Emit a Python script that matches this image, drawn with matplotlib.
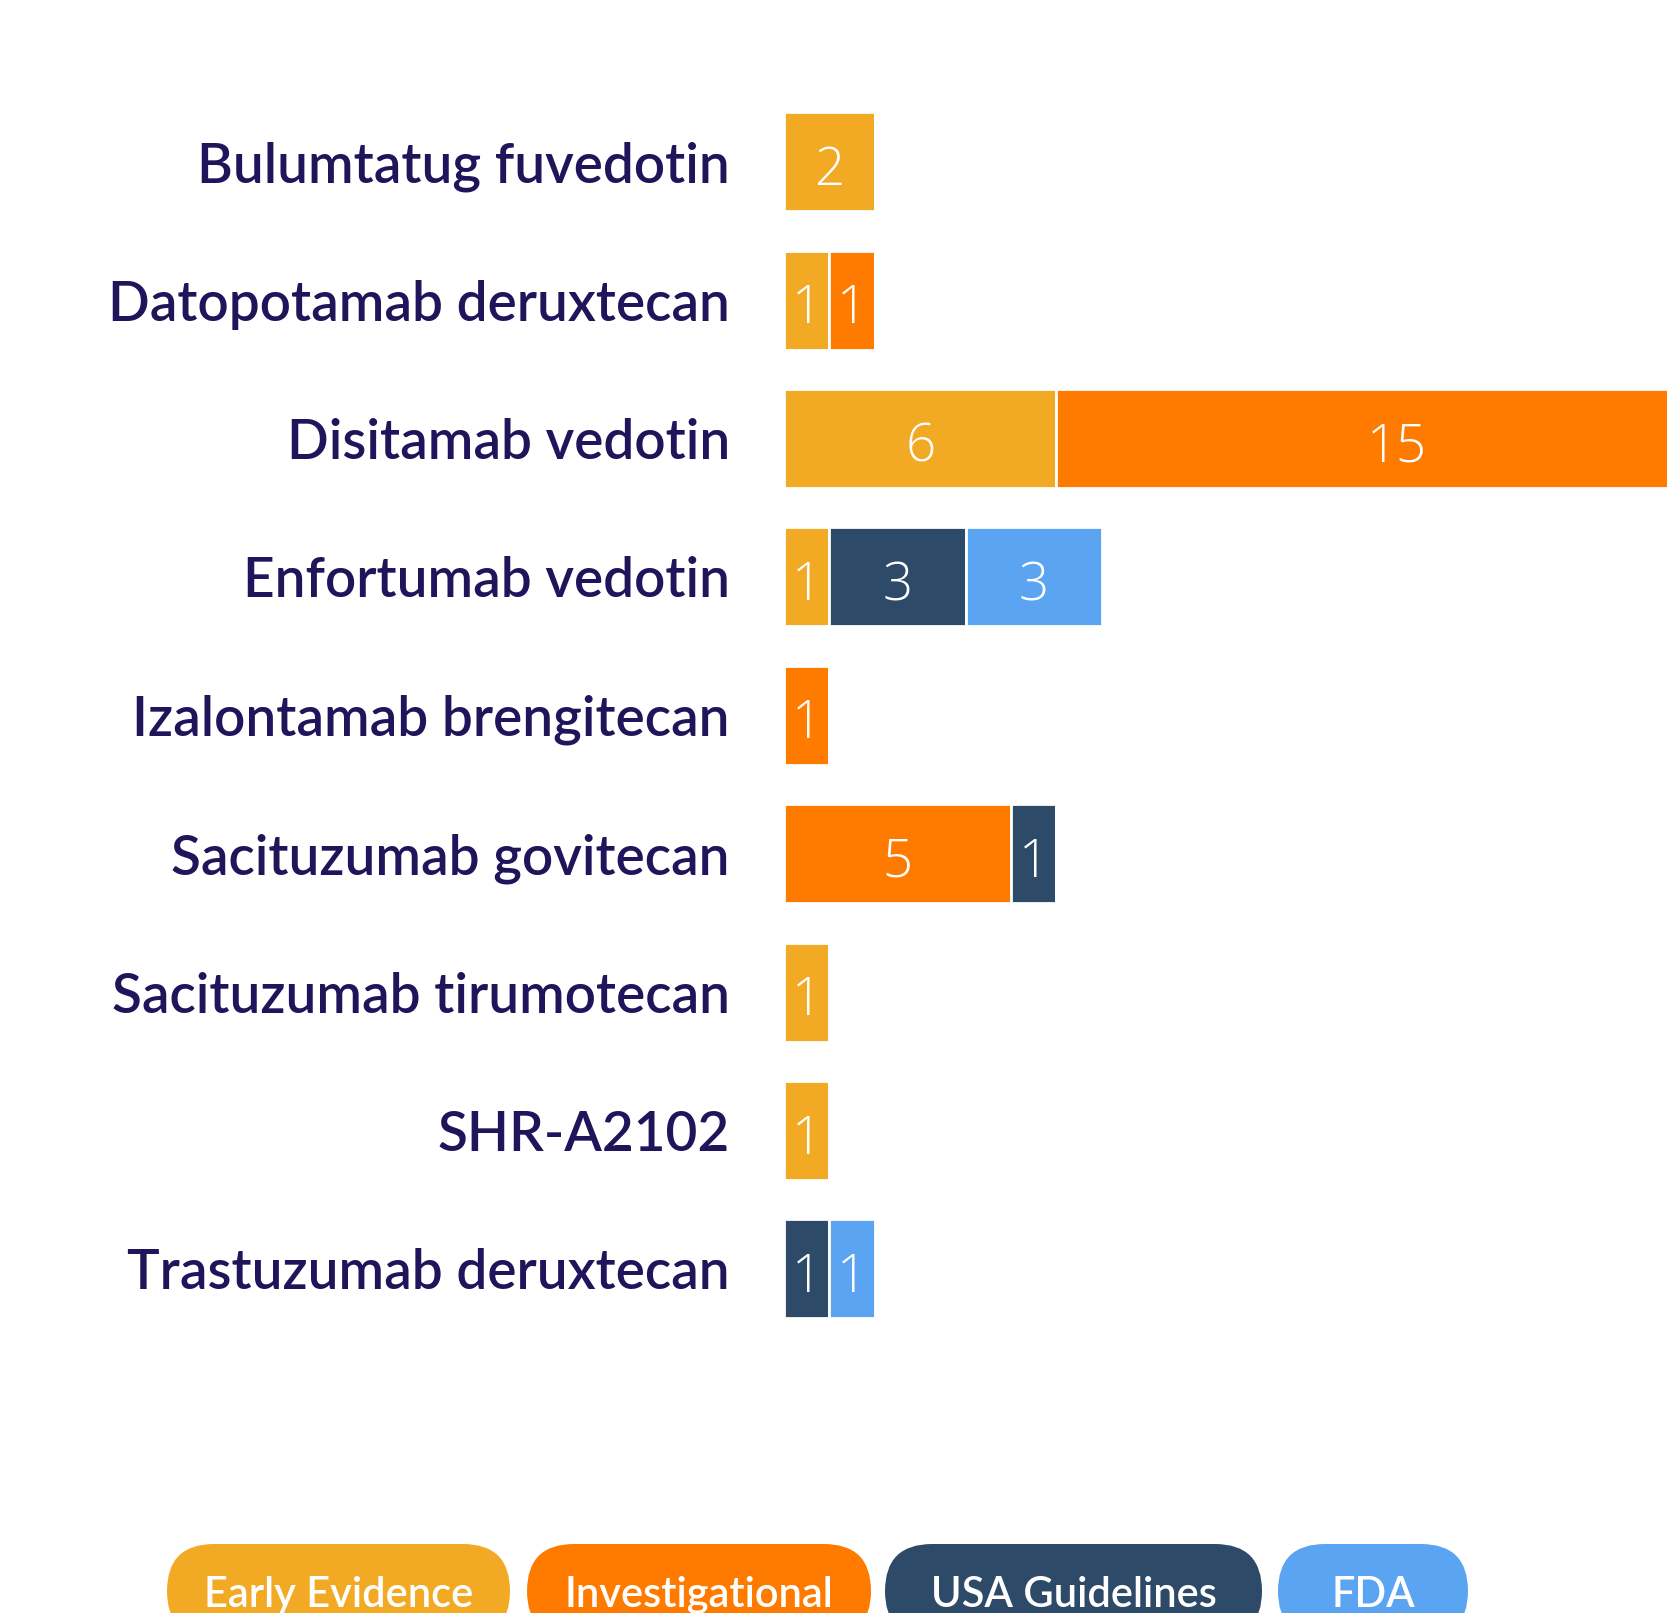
import matplotlib
matplotlib.use("Agg")
import matplotlib.pyplot as plt
from matplotlib.patches import FancyBboxPatch
import numpy as np

categories = ["Bulumtatug fuvedotin", "Datopotamab deruxtecan", "Disitamab vedotin",
              "Enfortumab vedotin", "Izalontamab brengitecan", "Sacituzumab govitecan",
              "Sacituzumab tirumotecan", "SHR-A2102", "Trastuzumab deruxtecan"]
series_names = ["Early Evidence", "Investigational", "USA Guidelines", "FDA"]
early_evidence = [2, 1, 6, 1, 0, 0, 1, 1, 0]
investigational = [0, 1, 15, 0, 1, 5, 0, 0, 0]
usa_guidelines = [0, 0, 0, 3, 0, 1, 0, 0, 1]
fda = [0, 0, 0, 3, 0, 0, 0, 0, 1]
colors = ["#F2AA24", "#FF7B00", "#2E4A69", "#5BA4F1"]

FONT = "Lato"
W, H = 1667, 1613
fig = plt.figure(figsize=(W / 100, H / 100), dpi=100)
fig.patch.set_facecolor("white")

unit_px = 45.4
left_px = 784
ax_w_px = W - left_px
top_px, bot_px = 92.5, 1338
ax = fig.add_axes([left_px / W, 1 - bot_px / H, ax_w_px / W, (bot_px - top_px) / H])
ax.set_xlim(0, ax_w_px / unit_px)
ax.set_ylim(len(categories) - 0.5, -0.5)

y = np.arange(len(categories))
left = np.zeros(len(categories))
for vals, col in zip([early_evidence, investigational, usa_guidelines, fda], colors):
    vals = np.array(vals, dtype=float)
    ax.barh(y, vals, left=left, height=0.715, color=col, edgecolor="white", linewidth=2)
    for yi, v, l in zip(y, vals, left):
        if v > 0:
            ax.text(l + v / 2, yi + 0.168, f"{int(v)}", ha="center", va="baseline", color="white",
                    fontsize=38, fontfamily="Open Sans", fontweight="light", clip_on=False)
    left += vals

ax.set_yticks(y)
ax.set_yticklabels(categories, fontsize=39.5, fontfamily=FONT, fontweight="semibold", color="#21145A")
ax.tick_params(axis="y", length=0, pad=39)
ax.set_xticks([])
for s in ax.spines.values():
    s.set_visible(False)

# legend pills
pill_x = [(167, 510), (527, 871), (885, 1262), (1278, 1468)]
pill_top, pill_h = 1544, 94
for name, col, (x0, x1) in zip(series_names, colors, pill_x):
    r = pill_h / 2
    p = FancyBboxPatch((x0 + r, H - pill_top - pill_h + r), (x1 - x0) - 2 * r, pill_h - 2 * r,
                       boxstyle=f"round,pad={r}", transform=None, facecolor=col, edgecolor="none")
    fig.patches.append(p)
    fig.text((x0 + x1) / 2 / W, 1 - 1607 / H, name, ha="center", va="baseline",
             color="white", fontsize=30, fontfamily=FONT, fontweight="semibold")

fig.savefig("out.png", dpi=100)
